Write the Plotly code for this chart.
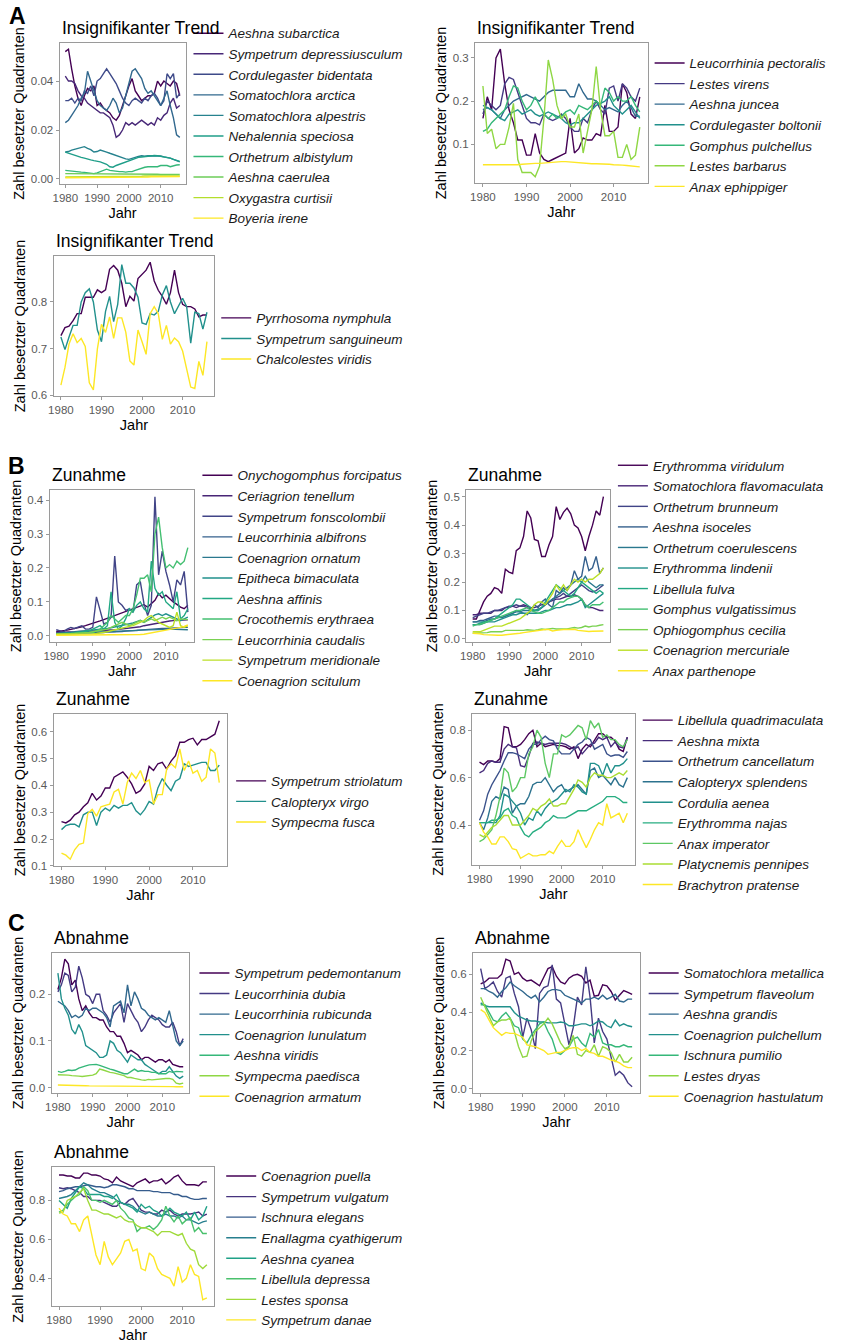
import plotly.graph_objects as go

# ---------------- data ----------------
years = list(range(1980, 2017))

# A1 – Insignifikanter Trend
a1_names = ["Aeshna subarctica", "Sympetrum depressiusculum", "Cordulegaster bidentata", "Somatochlora arctica",
            "Somatochlora alpestris", "Nehalennia speciosa", "Orthetrum albistylum", "Aeshna caerulea",
            "Oxygastra curtisii", "Boyeria irene"]
a1_subarctica = [.052,.053,.045,.038,.033,.030,.034,.037,.036,.038, .030,.031,.029,.028,.027,.025,.024,.026,.030,.034, .038,.041,.036,.034,.032,.033,.034,.034,.035,.040, .038,.040,.039,.038,.040,.039,.034]
a1_depressiusculum = [.042,.040,.040,.039,.036,.034,.033,.031,.030,.029, .028,.027,.027,.026,.025,.022,.017,.018,.020,.023, .022,.023,.022,.023,.024,.023,.022,.023,.022,.025, .024,.026,.027,.031,.033,.029,.030]
a1_bidentata = [.032,.032,.033,.031,.033,.032,.036,.035,.038,.034, .040,.041,.043,.045,.043,.041,.039,.036,.033,.031, .030,.032,.033,.032,.031,.033,.032,.034,.035,.033, .030,.032,.043,.041,.043,.033,.035]
a1_arctica = [.023,.024,.026,.028,.030,.033,.035,.044,.040,.036, .032,.030,.029,.028,.030,.033,.031,.027,.029,.034, .040,.044,.045,.043,.041,.037,.035,.036,.034,.032, .030,.033,.036,.030,.025,.018,.017]
a1_alpestris = [.011,.0112,.0118,.0122,.0125,.013,.0132,.0125,.012,.011, .0112,.0118,.0115,.011,.0105,.010,.0095,.009,.0085,.0082, .008,.0085,.009,.0092,.0095,.0093,.0095,.0095,.0094,.0096, .0094,.009,.0088,.0085,.008,.0075,.007]
a1_speciosa = [.011,.0105,.010,.0095,.009,.0088,.0085,.008,.0078,.0075, .0073,.007,.0065,.006,.005,.0048,.0055,.006,.0065,.007, .0075,.008,.0085,.0088,.009,.0092,.0092,.0095,.0096,.0095, .0093,.009,.0088,.0085,.008,.0075,.0072]
a1_albistylum = [.0035,.0033,.0032,.003,.003,.0028,.0027,.0025,.0022,.0022, .0025,.003,.0035,.004,.0035,.0033,.003,.003,.003,.0028, .003,.003,.0035,.004,.0045,.0048,.005,.005,.0048,.005, .0055,.0055,.0055,.005,.0055,.0057,.0058]
a1_caerulea = [.0022,.0022,.0021,.0021,.0021,.0021,.002,.002,.002,.002, .002,.002,.002,.002,.002,.002,.002,.002,.002,.002, .0019,.0019,.0019,.0019,.0019,.0019,.0019,.0019,.0019,.0019, .0018,.0018,.0018,.0018,.0018,.0018,.0018]
a1_curtisii = [.0008,.0008,.0008,.0008,.0008,.0008,.0008,.0008,.0008,.0008, .0008,.0008,.0008,.0008,.0008,.0009,.0009,.0009,.0009,.0009, .0009,.0009,.0009,.001,.0011,.0012,.0012,.0012,.0012,.0012, .0012,.0012,.0012,.0012,.0012,.0012,.0012]
a1_irene = [.0005,.0005,.0005,.0005,.0005,.0005,.0005,.0005,.0005,.0005, .0005,.0005,.0005,.0005,.0005,.0005,.0005,.0005,.0005,.0005, .0006,.0006,.0006,.0007,.0007,.0008,.0008,.0009,.0009,.001, .001,.001,.001,.001,.001,.001,.001]

# A2 – Insignifikanter Trend
a2_names = ["Leucorrhinia pectoralis", "Lestes virens", "Aeshna juncea", "Cordulegaster boltonii",
            "Gomphus pulchellus", "Lestes barbarus", "Anax ephippiger"]
a2_pectoralis = [.16,.21,.18,.30,.32,.24,.18,.15,.11,.11, .075,.075,.125,.08,.065,.06,.065,.07,.075,.08, .16,.08,.09,.115,.11,.11,.125,.12,.19,.13, .13,.14,.24,.22,.17,.16,.21]
a2_virens = [.17,.20,.19,.18,.19,.24,.255,.25,.22,.19, .16,.15,.15,.145,.17,.16,.155,.16,.17,.16, .14,.13,.13,.16,.15,.18,.20,.18,.17,.23, .235,.20,.24,.23,.21,.20,.23]
a2_juncea = [.18,.185,.18,.17,.16,.18,.19,.20,.205,.21, .215,.21,.205,.20,.21,.22,.225,.225,.225,.225, .21,.21,.24,.22,.205,.205,.20,.19,.18,.185, .18,.175,.19,.20,.185,.165,.165]
a2_boltonii = [.19,.185,.18,.17,.16,.155,.17,.175,.18,.17, .175,.18,.17,.165,.17,.175,.17,.165,.16,.15, .145,.15,.15,.16,.17,.18,.19,.195,.20,.21, .19,.18,.17,.18,.19,.175,.16]
a2_pulchellus = [.13,.135,.15,.16,.17,.18,.21,.235,.23,.20, .18,.19,.21,.19,.17,.16,.17,.16,.165,.175, .18,.17,.19,.185,.18,.19,.20,.19,.23,.22, .20,.21,.20,.20,.21,.19,.175]
a2_barbarus = [.235,.125,.135,.09,.10,.10,.14,.195,.065,.035, .035,.035,.025,.05,.16,.295,.25,.19,.16,.17, .14,.14,.17,.08,.13,.18,.28,.18,.12,.12, .13,.07,.07,.10,.065,.075,.14]
a2_ephippiger = [.053,.053,.052,.052,.052,.052,.052,.052,.053,.054, .055,.055,.056,.056,.057,.058,.059,.059,.060,.060, .059,.058,.057,.056,.056,.055,.055,.055,.055,.054, .053,.053,.052,.051,.050,.049,.048]

# A3 – Insignifikanter Trend
a3_names = ["Pyrrhosoma nymphula", "Sympetrum sanguineum", "Chalcolestes viridis"]
a3_nymphula = [.728,.745,.748,.76,.775,.775,.81,.81,.81,.826, .82,.826,.87,.878,.868,.84,.79,.812,.802,.85, .858,.868,.885,.845,.825,.812,.795,.82,.868,.82, .795,.79,.79,.785,.768,.772,.772]
a3_sanguineum = [.725,.698,.725,.75,.75,.80,.82,.828,.80,.74, .715,.78,.812,.758,.795,.88,.84,.84,.83,.81, .755,.752,.775,.772,.78,.815,.835,.80,.775,.79, .808,.79,.712,.778,.775,.742,.778]
a3_viridis = [.622,.66,.71,.732,.713,.722,.705,.627,.612,.70, .752,.735,.768,.722,.766,.766,.735,.674,.665,.74, .715,.688,.775,.79,.775,.72,.75,.71,.723,.715, .695,.655,.618,.615,.673,.643,.715]

# B1 – Zunahme
b1_names = ["Onychogomphus forcipatus", "Ceriagrion tenellum", "Sympetrum fonscolombii", "Leucorrhinia albifrons",
            "Coenagrion ornatum", "Epitheca bimaculata", "Aeshna affinis", "Crocothemis erythraea",
            "Leucorrhinia caudalis", "Sympetrum meridionale", "Coenagrion scitulum"]
b1_forcipatus = [.012,.013,.015,.017,.019,.021,.024,.027,.030,.033, .036,.040,.044,.048,.052,.056,.060,.064,.068,.072, .076,.080,.084,.088,.092,.085,.095,.105,.125,.112, .120,.110,.100,.093,.085,.080,.090]
b1_tenellum = [.010,.010,.011,.011,.012,.012,.013,.013,.014,.014, .015,.015,.016,.016,.017,.017,.018,.019,.020,.021, .022,.023,.025,.027,.030,.032,.035,.038,.040,.042, .043,.044,.045,.045,.046,.046,.047]
b1_fonscolombii = [.018,.015,.012,.020,.025,.022,.025,.030,.020,.020, .025,.115,.075,.035,.040,.055,.235,.100,.090,.075, .080,.070,.150,.160,.095,.060,.090,.410,.180,.250, .190,.150,.100,.165,.150,.190,.070]
b1_albifrons = [.005,.005,.006,.006,.006,.007,.007,.008,.008,.008, .009,.009,.010,.010,.011,.011,.012,.012,.013,.014, .015,.015,.016,.017,.018,.019,.020,.020,.021,.022, .022,.023,.023,.024,.024,.025,.025]
b1_ornatum = [.008,.008,.008,.009,.009,.009,.010,.010,.010,.011, .011,.011,.012,.012,.012,.013,.013,.014,.014,.015, .015,.016,.016,.017,.017,.018,.018,.018,.019,.019, .019,.020,.020,.020,.020,.019,.018]
b1_bimaculata = [.006,.007,.008,.009,.010,.011,.012,.013,.014,.015, .016,.017,.018,.020,.022,.024,.026,.028,.030,.032, .034,.038,.042,.046,.040,.048,.055,.062,.065,.060, .065,.060,.055,.050,.045,.050,.055]
b1_affinis = [.005,.005,.006,.006,.007,.008,.010,.012,.012,.015, .020,.025,.030,.020,.030,.130,.040,.020,.030,.050, .080,.070,.090,.100,.080,.070,.220,.140,.120,.130, .100,.090,.080,.130,.050,.060,.080]
b1_erythraea = [.005,.005,.005,.006,.007,.008,.008,.009,.010,.010, .010,.015,.020,.030,.040,.060,.050,.040,.050,.060, .060,.080,.120,.170,.170,.180,.130,.300,.350,.260, .200,.210,.200,.220,.210,.220,.260]
b1_caudalis = [.005,.005,.006,.006,.007,.007,.008,.008,.009,.010, .012,.014,.015,.017,.020,.025,.030,.035,.040,.035, .030,.035,.040,.045,.040,.045,.050,.045,.050,.055, .050,.055,.050,.045,.050,.048,.048]
b1_meridionale = [.005,.005,.004,.004,.005,.005,.004,.005,.005,.006, .006,.007,.008,.010,.012,.015,.018,.020,.022,.025, .028,.030,.035,.040,.045,.055,.060,.050,.040,.035, .030,.025,.030,.070,.030,.025,.030]
b1_scitulum = [.002,.002,.002,.002,.002,.002,.002,.002,.002,.002, .002,.002,.002,.002,.002,.002,.002,.002,.002,.002, .002,.003,.003,.004,.005,.007,.008,.010,.012,.014, .015,.018,.020,.022,.025,.028,.032]

# B2 – Zunahme
b2_names = ["Erythromma viridulum", "Somatochlora flavomaculata", "Orthetrum brunneum", "Aeshna isoceles",
            "Orthetrum coerulescens", "Erythromma lindenii", "Libellula fulva", "Gomphus vulgatissimus",
            "Ophiogomphus cecilia", "Coenagrion mercuriale", "Anax parthenope"]
b2_viridulum = [.07,.07,.10,.13,.15,.16,.18,.175,.16,.245, .235,.23,.31,.32,.36,.45,.425,.35,.345,.29, .29,.33,.36,.465,.42,.445,.46,.44,.40,.39, .36,.31,.36,.40,.45,.435,.50]
b2_flavomaculata = [.085,.085,.09,.09,.09,.09,.10,.10,.10,.11, .11,.115,.11,.115,.12,.115,.11,.11,.115,.12, .125,.13,.135,.14,.14,.145,.15,.15,.155,.15, .14,.12,.11,.11,.105,.10,.10]
b2_brunneum = [.075,.08,.085,.09,.09,.095,.10,.10,.105,.11, .115,.115,.12,.115,.115,.11,.105,.10,.10,.11, .12,.13,.14,.145,.15,.16,.15,.16,.17,.18, .19,.18,.17,.165,.17,.18,.19]
b2_isoceles = [.06,.06,.065,.065,.07,.075,.08,.08,.075,.08, .085,.09,.10,.095,.09,.085,.10,.12,.11,.13, .14,.12,.11,.17,.16,.18,.17,.19,.24,.21, .22,.29,.24,.25,.29,.23,.25]
b2_coerulescens = [.06,.06,.06,.06,.065,.07,.07,.075,.075,.08, .085,.09,.095,.095,.10,.10,.10,.10,.105,.11, .12,.13,.14,.15,.16,.17,.18,.19,.20,.21, .20,.22,.20,.19,.18,.19,.19]
b2_lindenii = [.05,.05,.05,.055,.06,.06,.06,.065,.07,.075, .08,.085,.085,.09,.09,.09,.09,.09,.09,.095, .10,.10,.105,.11,.11,.115,.12,.12,.125,.13, .14,.11,.12,.13,.14,.15,.16]
b2_fulva = [.05,.05,.055,.06,.06,.065,.07,.08,.09,.10, .11,.12,.14,.14,.13,.12,.11,.10,.10,.11, .13,.15,.17,.19,.18,.17,.16,.15,.16,.18, .20,.19,.18,.17,.16,.17,.16]
b2_vulgatissimus = [.045,.05,.05,.055,.06,.065,.07,.075,.08,.085, .09,.095,.10,.10,.105,.11,.10,.095,.09,.09, .095,.10,.11,.12,.13,.13,.14,.145,.15,.15, .14,.12,.11,.12,.12,.12,.13]
b2_cecilia = [.02,.02,.02,.02,.022,.025,.025,.025,.025,.03, .03,.03,.028,.03,.03,.032,.03,.03,.032,.035, .033,.035,.037,.035,.035,.035,.035,.038,.04,.038, .04,.045,.042,.045,.045,.048,.05]
b2_mercuriale = [.025,.025,.025,.03,.035,.04,.045,.045,.045,.05, .055,.06,.065,.07,.08,.09,.10,.12,.13,.13, .12,.14,.16,.19,.17,.19,.17,.19,.21,.20, .21,.20,.21,.21,.22,.23,.25]
b2_parthenope = [.02,.02,.018,.015,.014,.013,.013,.013,.013,.014, .015,.017,.018,.02,.022,.024,.025,.027,.03,.032, .033,.033,.028,.03,.032,.033,.033,.034,.034,.03, .028,.028,.026,.027,.027,.026,.028]

# B3 – Zunahme
b3_names = ["Sympetrum striolatum", "Calopteryx virgo", "Sympecma fusca"]
b3_striolatum = [.265,.26,.27,.29,.30,.32,.335,.37,.345,.36, .39,.39,.43,.44,.45,.43,.405,.37,.38,.405, .47,.455,.48,.485,.46,.49,.51,.56,.56,.57, .575,.55,.57,.57,.58,.59,.64]
b3_virgo = [.235,.25,.255,.255,.245,.29,.30,.30,.25,.30, .315,.305,.325,.315,.325,.325,.335,.305,.29,.31, .34,.33,.39,.425,.40,.38,.415,.425,.48,.47, .475,.48,.485,.485,.455,.455,.475]
b3_fusca = [.148,.14,.125,.16,.18,.185,.295,.31,.285,.32, .325,.33,.375,.385,.33,.41,.445,.425,.455,.41, .42,.33,.365,.365,.46,.48,.465,.535,.455,.49, .445,.455,.415,.43,.535,.52,.41]

# B4 – Zunahme
b4_names = ["Libellula quadrimaculata", "Aeshna mixta", "Orthetrum cancellatum", "Calopteryx splendens",
            "Cordulia aenea", "Erythromma najas", "Anax imperator", "Platycnemis pennipes", "Brachytron pratense"]
b4_quadrimaculata = [.665,.655,.67,.67,.665,.68,.815,.81,.73,.73, .74,.76,.785,.80,.73,.745,.73,.735,.74,.735, .735,.73,.72,.73,.68,.72,.74,.73,.76,.785, .785,.77,.77,.755,.72,.71,.77]
b4_mixta = [.62,.63,.66,.67,.665,.665,.72,.74,.73,.725, .65,.645,.69,.745,.75,.745,.74,.745,.745,.745, .745,.74,.73,.72,.73,.70,.72,.74,.745,.77, .76,.77,.73,.75,.73,.725,.77]
b4_cancellatum = [.42,.46,.53,.57,.60,.63,.67,.705,.705,.70, .69,.68,.72,.74,.74,.76,.775,.76,.755,.72, .70,.70,.70,.72,.74,.75,.77,.76,.72,.73, .74,.70,.69,.695,.695,.685,.71]
b4_splendens = [.41,.38,.43,.50,.52,.51,.56,.55,.45,.48, .49,.49,.52,.57,.58,.58,.60,.57,.54,.56, .57,.54,.55,.56,.57,.55,.53,.63,.64,.60, .61,.59,.57,.60,.57,.56,.60]
b4_aenea = [.41,.41,.41,.41,.41,.44,.53,.52,.50,.48, .45,.40,.43,.42,.46,.44,.47,.49,.50,.51, .53,.55,.54,.57,.56,.54,.53,.66,.66,.65, .61,.66,.62,.65,.65,.66,.68]
b4_najas = [.41,.41,.41,.42,.42,.43,.46,.47,.44,.43, .39,.36,.35,.37,.38,.39,.41,.42,.44,.43, .43,.43,.44,.45,.46,.46,.46,.47,.48,.49, .50,.52,.52,.52,.51,.495,.495]
b4_imperator = [.33,.34,.36,.38,.44,.52,.64,.62,.54,.56, .60,.60,.70,.73,.80,.77,.66,.60,.70,.70, .78,.77,.78,.80,.82,.81,.76,.84,.81,.83, .77,.78,.76,.76,.74,.73,.76]
b4_pennipes = [.36,.35,.37,.39,.40,.42,.44,.44,.40,.40, .40,.42,.44,.47,.46,.48,.49,.51,.48,.48, .49,.49,.52,.55,.59,.58,.56,.60,.62,.61, .61,.60,.60,.61,.62,.61,.63]
b4_pratense = [.41,.37,.35,.32,.32,.35,.35,.33,.30,.295, .26,.27,.28,.27,.27,.275,.275,.29,.28,.31, .335,.31,.31,.33,.38,.34,.305,.34,.38,.41, .40,.49,.43,.44,.45,.41,.45]

# C1 – Abnahme
c1_names = ["Sympetrum pedemontanum", "Leucorrhinia dubia", "Leucorrhinia rubicunda", "Coenagrion lunulatum",
            "Aeshna viridis", "Sympecma paedisca", "Coenagrion armatum"]
c1_pedemontanum = [.21,.235,.275,.265,.22,.23,.19,.165,.175,.16, .15,.15,.145,.145,.13,.12,.12,.11,.11,.095, .075,.08,.075,.07,.06,.065,.065,.06,.055,.06, .06,.055,.06,.05,.048,.045,.045]
c1_dubia = [.205,.22,.245,.24,.205,.215,.26,.235,.20,.195, .18,.20,.20,.165,.155,.14,.16,.17,.18,.14, .18,.165,.15,.14,.12,.13,.145,.155,.15,.145, .135,.13,.13,.14,.12,.09,.105]
c1_rubicunda = [.185,.18,.175,.165,.15,.155,.15,.155,.17,.165, .17,.17,.165,.16,.15,.13,.175,.18,.185,.16, .22,.175,.205,.19,.17,.165,.155,.15,.145,.15, .145,.14,.165,.135,.10,.09,.10]
c1_lunulatum = [.245,.19,.17,.155,.125,.115,.135,.12,.09,.085, .08,.075,.065,.065,.07,.10,.095,.08,.075,.065, .055,.07,.065,.06,.06,.05,.045,.04,.035,.03, .035,.035,.045,.035,.025,.02,.025]
c1_viridis = [.035,.033,.035,.038,.037,.038,.042,.045,.047,.049, .05,.05,.048,.045,.042,.04,.038,.035,.032,.03, .03,.035,.04,.035,.037,.035,.035,.033,.033,.03, .03,.03,.035,.033,.035,.035,.034]
c1_paedisca = [.028,.028,.028,.027,.026,.026,.025,.024,.025,.026, .027,.03,.04,.038,.035,.033,.032,.03,.028,.026, .022,.022,.02,.018,.017,.016,.018,.017,.018,.019, .019,.02,.02,.018,.01,.008,.01]
c1_armatum = [.006,.006,.006,.0055,.0055,.005,.005,.0045,.0045,.004, .004,.004,.0035,.0035,.003,.003,.003,.003,.003,.003, .003,.0028,.0028,.0027,.0027,.0026,.0026,.0025,.0025,.0025, .0025,.0025,.0024,.0024,.0023,.0023,.0023]

# C2 – Abnahme
c2_names = ["Somatochlora metallica", "Sympetrum flaveolum", "Aeshna grandis", "Coenagrion pulchellum",
            "Ischnura pumilio", "Lestes dryas", "Coenagrion hastulatum"]
c2_metallica = [.55,.56,.58,.58,.58,.60,.68,.67,.60,.61, .58,.565,.57,.555,.54,.585,.63,.64,.59,.56, .55,.58,.595,.60,.59,.555,.57,.485,.49,.545, .54,.51,.465,.49,.515,.505,.495]
c2_flaveolum = [.63,.525,.54,.56,.51,.48,.58,.59,.50,.43, .27,.37,.31,.21,.50,.53,.54,.65,.47,.45, .34,.23,.32,.48,.44,.64,.48,.24,.37,.30, .26,.17,.07,.09,.07,.03,.01]
c2_grandis = [.525,.525,.51,.50,.48,.51,.53,.56,.54,.525, .51,.49,.475,.49,.455,.48,.51,.52,.52,.515, .49,.48,.47,.46,.45,.47,.47,.48,.47,.49, .47,.48,.495,.46,.455,.47,.47]
c2_pulchellum = [.45,.435,.43,.43,.43,.43,.43,.43,.40,.38, .37,.36,.355,.355,.35,.35,.345,.345,.345,.35, .345,.33,.33,.335,.34,.34,.33,.34,.355,.35, .33,.32,.36,.33,.34,.33,.325]
c2_pumilio = [.44,.44,.40,.36,.35,.38,.40,.37,.33,.32, .26,.24,.28,.31,.34,.35,.30,.26,.19,.18, .20,.22,.26,.27,.24,.22,.29,.27,.31,.24, .23,.23,.22,.22,.23,.22,.22]
c2_dryas = [.48,.43,.38,.33,.35,.36,.36,.37,.30,.22, .165,.17,.25,.30,.32,.34,.37,.34,.29,.24, .21,.22,.28,.18,.17,.20,.19,.23,.17,.22, .21,.19,.14,.18,.14,.14,.165]
c2_hastulatum = [.415,.40,.36,.32,.30,.28,.295,.29,.29,.28, .27,.23,.225,.22,.21,.20,.18,.185,.19,.19, .20,.21,.215,.215,.20,.21,.19,.185,.17,.17, .16,.15,.145,.135,.12,.11,.11]

# C3 – Abnahme
c3_names = ["Coenagrion puella", "Sympetrum vulgatum", "Ischnura elegans", "Enallagma cyathigerum",
            "Aeshna cyanea", "Libellula depressa", "Lestes sponsa", "Sympetrum danae"]
c3_puella = [.93,.93,.925,.925,.915,.915,.94,.94,.93,.93, .925,.91,.905,.89,.92,.90,.89,.88,.87,.89, .90,.91,.89,.90,.90,.91,.885,.90,.92,.93, .90,.88,.88,.88,.875,.895,.895]
c3_vulgatum = [.865,.86,.865,.86,.85,.84,.82,.82,.80,.80, .80,.79,.78,.77,.77,.79,.78,.80,.81,.78, .75,.74,.74,.73,.73,.75,.74,.75,.73,.72, .73,.73,.73,.735,.74,.72,.73]
c3_elegans = [.845,.85,.86,.865,.87,.87,.875,.88,.875,.87, .87,.865,.87,.88,.88,.875,.87,.86,.86,.85, .85,.85,.85,.845,.845,.84,.84,.84,.83,.83, .82,.82,.81,.805,.805,.81,.81]
c3_cyathigerum = [.81,.815,.82,.83,.85,.87,.89,.88,.86,.85, .84,.84,.83,.82,.80,.79,.78,.78,.77,.75, .74,.73,.74,.73,.72,.72,.73,.72,.72,.71, .72,.70,.70,.69,.68,.69,.695]
c3_cyanea = [.80,.78,.76,.81,.84,.87,.86,.83,.83,.83, .83,.82,.82,.81,.83,.79,.78,.77,.76,.74, .78,.76,.77,.75,.74,.72,.74,.76,.74,.73, .72,.74,.70,.74,.70,.72,.77]
c3_depressa = [.74,.75,.78,.80,.82,.83,.87,.85,.80,.80, .79,.80,.79,.78,.80,.76,.74,.71,.70,.64, .66,.66,.67,.65,.67,.70,.77,.72,.69,.72, .68,.70,.71,.64,.66,.63,.63]
c3_sponsa = [.735,.74,.80,.81,.82,.84,.86,.80,.75,.75, .74,.73,.73,.72,.71,.72,.70,.69,.69,.67, .66,.66,.65,.64,.62,.64,.64,.64,.63,.62, .63,.58,.55,.54,.47,.45,.47]
c3_danae = [.76,.73,.72,.68,.68,.64,.70,.72,.62,.52, .47,.59,.51,.47,.50,.53,.59,.60,.54,.55, .45,.44,.53,.51,.45,.42,.41,.40,.36,.46, .38,.40,.47,.42,.41,.29,.30]

y_title = "Zahl besetzter Quadranten"
x_title = "Jahr"
x_ticks = [1980, 1990, 2000, 2010]

# ---------------- styling ----------------
VIRIDIS = {
    3: ["#440154", "#21908C", "#FDE725"],
    7: ["#440154", "#443A83", "#31688E", "#21908C", "#35B779", "#8FD744", "#FDE725"],
    8: ["#440154", "#46337E", "#365C8D", "#277F8E", "#1FA187", "#4AC16D", "#9FDA3A", "#FDE725"],
    9: ["#440154", "#472D7B", "#3B528B", "#2C728E", "#21908C", "#27AD81", "#5DC863", "#AADC32", "#FDE725"],
    10: ["#440154", "#482878", "#3E4A89", "#31688E", "#26828E", "#1F9E89", "#35B779", "#6DCD59", "#B4DE2C", "#FDE725"],
    11: ["#440154", "#482576", "#414487", "#35608D", "#2A788E", "#21908C", "#22A884", "#43BF71", "#7AD151", "#BBDF27", "#FDE725"],
}

W, H = 842, 1344
FONT = "Liberation Sans, Arial, sans-serif"

panels = [
    dict(title="Insignifikanter Trend", names=a1_names,
         series=[a1_subarctica, a1_depressiusculum, a1_bidentata, a1_arctica, a1_alpestris, a1_speciosa,
                 a1_albistylum, a1_caerulea, a1_curtisii, a1_irene],
         box=(53, 180, 43, 185), yt=[0, 0.02, 0.04], fmt=".2f", leg=(229, 33)),
    dict(title="Insignifikanter Trend", names=a2_names,
         series=[a2_pectoralis, a2_virens, a2_juncea, a2_boltonii, a2_pulchellus, a2_barbarus, a2_ephippiger],
         box=(472, 646, 43, 184), yt=[0.1, 0.2, 0.3], fmt=".1f", leg=(694, 63)),
    dict(title="Insignifikanter Trend", names=a3_names,
         series=[a3_nymphula, a3_sanguineum, a3_viridis],
         box=(47, 209, 257, 398), yt=[0.6, 0.7, 0.8], fmt=".1f", leg=(257, 319)),
    dict(title="Zunahme", names=b1_names,
         series=[b1_forcipatus, b1_tenellum, b1_fonscolombii, b1_albifrons, b1_ornatum, b1_bimaculata,
                 b1_affinis, b1_erythraea, b1_caudalis, b1_meridionale, b1_scitulum],
         box=(43, 189, 492, 645), yt=[0, 0.1, 0.2, 0.3, 0.4], fmt=".1f", leg=(238, 477)),
    dict(title="Zunahme", names=b2_names,
         series=[b2_viridulum, b2_flavomaculata, b2_brunneum, b2_isoceles, b2_coerulescens, b2_lindenii,
                 b2_fulva, b2_vulgatissimus, b2_cecilia, b2_mercuriale, b2_parthenope],
         box=(463, 608, 492, 645), yt=[0, 0.1, 0.2, 0.3, 0.4, 0.5], fmt=".1f", leg=(657, 467)),
    dict(title="Zunahme", names=b3_names,
         series=[b3_striolatum, b3_virgo, b3_fusca],
         box=(47, 222, 717, 870), yt=[0.1, 0.2, 0.3, 0.4, 0.5, 0.6], fmt=".1f", leg=(272, 784)),
    dict(title="Zunahme", names=b4_names,
         series=[b4_quadrimaculata, b4_mixta, b4_cancellatum, b4_splendens, b4_aenea, b4_najas,
                 b4_imperator, b4_pennipes, b4_pratense],
         box=(469, 633, 717, 869), yt=[0.4, 0.6, 0.8], fmt=".1f", leg=(682, 723)),
    dict(title="Abnahme", names=c1_names,
         series=[c1_pedemontanum, c1_dubia, c1_rubicunda, c1_lunulatum, c1_viridis, c1_paedisca, c1_armatum],
         box=(45, 184, 957, 1098), yt=[0, 0.1, 0.2], fmt=".1f", leg=(235, 977)),
    dict(title="Abnahme", names=c2_names,
         series=[c2_metallica, c2_flaveolum, c2_grandis, c2_pulchellum, c2_pumilio, c2_dryas, c2_hastulatum],
         box=(470, 638, 957, 1098), yt=[0, 0.2, 0.4, 0.6], fmt=".1f", leg=(688, 977)),
    dict(title="Abnahme", names=c3_names,
         series=[c3_puella, c3_vulgatum, c3_elegans, c3_cyathigerum, c3_cyanea, c3_depressa, c3_sponsa, c3_danae],
         box=(45, 209, 1172, 1312), yt=[0.4, 0.6, 0.8], fmt=".1f", leg=(262, 1181)),
]

fig = go.Figure()
layout = dict(
    width=W, height=H, margin=dict(l=0, r=0, t=0, b=0),
    paper_bgcolor="white", plot_bgcolor="white",
    font=dict(family=FONT, color="black"),
    showlegend=True, annotations=[],
)

LEG_TEXT_OFFSET = 46   # px from legend left to item text
LEG_FIRST_CENTER = 15  # px from legend top to first item centre

for i, p in enumerate(panels, start=1):
    assert len(p["names"]) == len(p["series"])
    for s in p["series"]:
        assert len(s) == len(years), (p["title"], len(s))
    xa = "x" if i == 1 else f"x{i}"
    ya = "y" if i == 1 else f"y{i}"
    lg = "legend" if i == 1 else f"legend{i}"
    cols = VIRIDIS[len(p["series"])]
    for name, vals, c in zip(p["names"], p["series"], cols):
        fig.add_trace(go.Scatter(x=years, y=vals, mode="lines", name=name,
                                 line=dict(color=c, width=1.4), xaxis=xa, yaxis=ya, legend=lg))
    allv = [v for s in p["series"] for v in s]
    lo, hi = min(allv), max(allv)
    pad = 0.05 * (hi - lo)
    L, R, T, B = p["box"]
    axis_common = dict(showgrid=False, zeroline=False, showline=True, mirror=True,
                       linecolor="#9a9a9a", linewidth=1.1, ticks="outside", ticklen=3,
                       tickcolor="#9a9a9a", tickwidth=1,
                       tickfont=dict(family=FONT, size=11.5, color="#5a5a5a"))
    layout["xaxis" if i == 1 else f"xaxis{i}"] = dict(
        axis_common, domain=[L / W, R / W], anchor=ya, range=[1978.2, 2017.8],
        tickvals=x_ticks, title=dict(text=x_title, font=dict(family=FONT, size=14.5), standoff=4))
    layout["yaxis" if i == 1 else f"yaxis{i}"] = dict(
        axis_common, domain=[1 - B / H, 1 - T / H], anchor=xa, range=[lo - pad, hi + pad],
        tickvals=p["yt"], tickformat=p["fmt"],
        title=dict(text=y_title, font=dict(family=FONT, size=14.5), standoff=2))
    tx, fy = p["leg"]
    layout[lg] = dict(x=(tx - LEG_TEXT_OFFSET) / W, y=1 - (fy - LEG_FIRST_CENTER) / H,
                      xanchor="left", yanchor="top", bgcolor="rgba(0,0,0,0)", borderwidth=0,
                      traceorder="normal",
                      font=dict(family=FONT, size=13.5, color="#1a1a1a", style="italic"))
    layout["annotations"].append(dict(
        text=p["title"], xref="paper", yref="paper", x=L / W, y=1 - (T - 15) / H,
        xanchor="left", yanchor="middle", showarrow=False,
        font=dict(family=FONT, size=17.5, color="black")))

for lab, px, py in [("A", 11, 16), ("B", 10, 468), ("C", 10, 927)]:
    layout["annotations"].append(dict(
        text=f"<b>{lab}</b>", xref="paper", yref="paper", x=px / W, y=1 - py / H,
        xanchor="center", yanchor="middle", showarrow=False,
        font=dict(family=FONT, size=23, color="black")))

fig.update_layout(**layout)
fig.write_html("out.html", config={"displayModeBar": False},
               post_script="document.body.style.margin='0';document.body.style.padding='0';")
